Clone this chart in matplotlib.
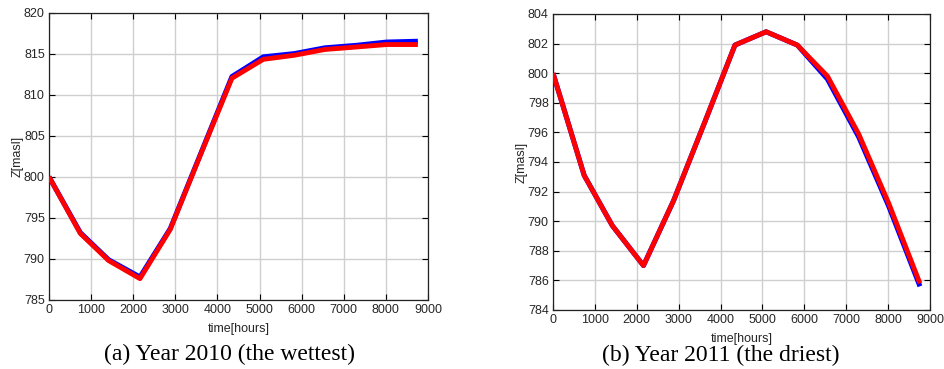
import matplotlib
matplotlib.use("Agg")
import matplotlib.pyplot as plt
import numpy as np

plt.rcParams["font.family"] = "Liberation Sans"

# monthly time stamps (hours)
hours = [0, 744, 1416, 2160, 2880, 3624, 4344, 5088, 5832, 6552, 7296, 8016, 8760]

# Year 2010 (wettest)
z2010_blue = [800.0, 793.2, 789.9, 787.8, 793.7, 803.1, 812.2, 814.6, 815.0, 815.7, 816.0, 816.4, 816.5]
z2010_red = [800.0, 793.1, 789.8, 787.6, 793.6, 803.0, 812.0, 814.3, 814.8, 815.5, 815.8, 816.1, 816.1]

# Year 2011 (driest)
z2011_blue = [800.0, 793.1, 789.7, 787.0, 791.4, 796.7, 801.9, 802.8, 801.9, 799.6, 795.7, 791.0, 785.6]
z2011_red = [800.0, 793.1, 789.7, 787.0, 791.4, 796.7, 801.9, 802.8, 801.9, 799.8, 795.9, 791.2, 785.8]

captions = ['(a) Year 2010 (the wettest)', '(b) Year 2011 (the driest)']

W, H = 945, 369
fig = plt.figure(figsize=(W / 100, H / 100), dpi=100)

def px_axes(x0, y0, x1, y1):
    return fig.add_axes([x0 / W, 1 - y1 / H, (x1 - x0) / W, (y1 - y0) / H])

ax0 = px_axes(49, 12.5, 428, 300)
ax1 = px_axes(553, 14, 930, 310)

tc = '#262626'
for ax, zb, zr, ylim, yt in [
    (ax0, z2010_blue, z2010_red, (785, 820), np.arange(785, 821, 5)),
    (ax1, z2011_blue, z2011_red, (784, 804), np.arange(784, 805, 2)),
]:
    ax.plot(hours, zb, color='blue', lw=3.6, solid_capstyle='butt', zorder=3)
    ax.plot(hours, zr, color='red', lw=3.5, solid_capstyle='butt', zorder=4)
    ax.set_xlim(0, 9000)
    ax.set_ylim(*ylim)
    ax.set_xticks(np.arange(0, 9001, 1000))
    ax.set_yticks(yt)
    ax.grid(True, color='#cfcfcf', lw=1.0)
    ax.set_axisbelow(True)
    ax.tick_params(direction='in', top=True, right=True, length=4, width=0.8,
                   labelsize=9, labelcolor=tc, pad=3)
    for s in ax.spines.values():
        s.set_linewidth(0.9)
        s.set_color('#222222')

ax0.set_ylabel('Z[masl]', fontsize=9, color=tc, labelpad=0)
ax1.set_ylabel('Z[masl]', fontsize=9, color=tc, labelpad=0)

fig.text(238.5 / W, 1 - 329 / H, 'time[hours]', ha='center', va='center', fontsize=9, color=tc)
fig.text(741.5 / W, 1 - 339 / H, 'time[hours]', ha='center', va='center', fontsize=9, color=tc)

fig.text(230 / W, 1 - 354 / H, captions[0], ha='center', va='center', fontsize=17,
         family='Liberation Serif')
fig.text(721 / W, 1 - 355 / H, captions[1], ha='center', va='center', fontsize=17,
         family='Liberation Serif')

fig.savefig('out.png', dpi=100)
